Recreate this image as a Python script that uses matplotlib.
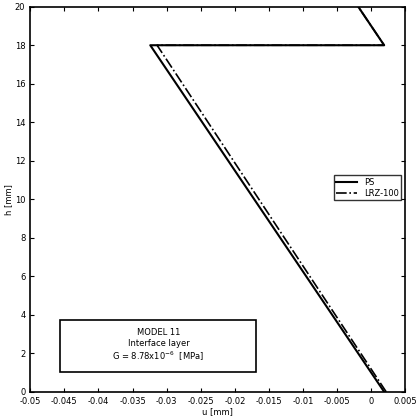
import numpy as np
import matplotlib.pyplot as plt
from matplotlib.patches import Rectangle

h_ps = [0, 18, 18, 20]
u_ps = [0.0019, -0.0324, 0.0019, -0.0019]
h_lrz = [0, 18, 18, 20]
u_lrz = [0.0022, -0.0314, 0.0019, -0.0019]

fig = plt.figure(figsize=(4.2, 4.2), dpi=100)
ax = fig.add_axes([0.072, 0.067, 0.893, 0.917])
ax.plot(u_ps, h_ps, 'k-', lw=1.5, label='PS')
ax.plot(u_lrz, h_lrz, 'k-.', lw=1.2, label='LRZ-100')
ax.set_xlim(-0.05, 0.005)
ax.set_ylim(0, 20)
ax.set_xticks(np.arange(-0.05, 0.0051, 0.005))
ax.set_xticklabels(['-0.05', '-0.045', '-0.04', '-0.035', '-0.03', '-0.025', '-0.02',
                    '-0.015', '-0.01', '-0.005', '0', '0.005'])
ax.set_yticks(range(0, 21, 2))
ax.tick_params(direction='in', labelsize=6, top=True, right=True, length=3)
ax.set_xlabel('u [mm]', fontsize=6, labelpad=1)
ax.set_ylabel('h [mm]', fontsize=6, labelpad=1)
ax.legend(loc='center right', fontsize=6, frameon=True, fancybox=False,
          edgecolor='k', handlelength=2.5, borderpad=0.3, labelspacing=0.2,
          bbox_to_anchor=(1.0, 0.53))
ax.add_patch(Rectangle((-0.0456, 1.04), 0.0287, 2.7, fill=True, fc='white',
                       ec='k', lw=1.2, zorder=3))
ax.text(-0.0312, 2.4, 'MODEL 11\nInterface layer\nG = 8.78x10$^{-6}$  [MPa]',
        ha='center', va='center', fontsize=6, linespacing=1.2, zorder=4)
for s in ax.spines.values():
    s.set_linewidth(1.2)
fig.savefig('out.png', dpi=100)
